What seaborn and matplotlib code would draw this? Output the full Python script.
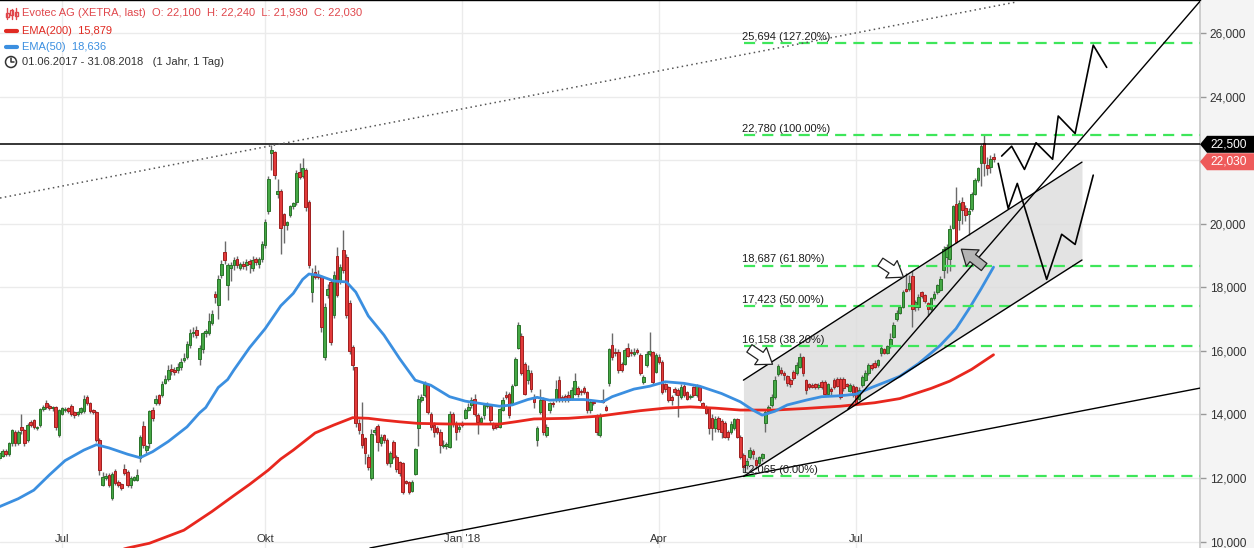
import numpy as np
import pandas as pd
import matplotlib
matplotlib.use("Agg")
import matplotlib.pyplot as plt
import seaborn as sns
from matplotlib.patches import Polygon, Circle, Rectangle
from matplotlib.lines import Line2D
from matplotlib.transforms import IdentityTransform

# ---------------- data (EUR) ----------------
opens = [
    12.60,12.70,12.62,12.70,12.85,12.75,13.09,13.46,13.10,13.60,
    13.50,13.20,13.77,13.82,13.56,13.67,14.16,14.37,14.26,14.19,
    14.24,13.35,14.03,14.13,14.19,14.26,14.08,14.00,14.08,14.10,
    14.56,14.35,14.14,14.08,13.20,11.78,12.00,12.10,11.36,12.23,
    11.88,11.80,12.27,12.20,11.78,11.94,11.94,12.62,13.64,12.88,
    13.10,14.14,14.35,14.60,14.60,15.00,15.13,15.42,15.40,15.40,
    15.50,15.70,15.82,16.18,16.55,16.65,15.76,16.05,16.55,16.55,
    16.88,17.80,17.44,18.38,19.10,18.07,18.60,18.70,18.88,18.62,
    18.72,18.70,18.82,18.60,18.88,18.72,18.88,19.33,20.40,22.23,
    22.26,20.93,21.02,20.30,19.95,20.28,20.55,20.69,21.63,21.50,
    21.69,20.70,17.86,18.49,18.40,18.33,15.80,17.75,18.17,17.13,
    19.00,18.20,19.17,18.96,17.50,16.13,15.48,13.72,13.38,13.25,
    12.67,11.99,13.45,13.64,13.09,13.35,13.20,12.46,13.14,12.67,
    12.50,12.46,11.90,11.88,11.60,12.13,13.56,14.45,14.60,14.92,
    14.03,13.67,13.59,13.46,13.00,13.00,12.99,14.00,13.74,13.55,
    13.72,13.90,14.14,14.30,14.50,13.98,13.77,13.98,14.28,14.26,
    13.70,13.66,13.61,14.14,14.61,14.64,14.35,14.92,16.10,16.47,
    15.60,15.08,15.31,14.56,13.20,14.09,14.45,13.35,14.14,14.35,
    14.45,15.08,14.55,14.58,14.60,14.50,14.66,14.82,14.75,14.82,
    14.71,14.14,14.38,13.98,13.35,14.45,14.24,14.98,16.18,15.97,
    15.97,15.60,15.60,16.10,15.97,15.90,16.03,15.87,15.03,15.55,
    15.90,15.97,15.34,15.80,15.66,14.95,14.85,14.55,14.80,14.78,
    14.56,14.90,14.72,14.55,14.85,14.60,14.85,14.35,14.25,14.20,
    13.90,13.56,13.90,13.80,13.72,13.45,13.45,13.56,13.85,13.30,
    12.72,12.40,12.67,12.85,12.57,12.48,12.62,13.72,14.10,14.30,
    14.56,15.27,15.40,15.30,15.20,15.10,15.34,15.31,15.50,15.82,
    15.08,14.95,14.92,14.95,14.85,15.03,15.03,14.66,14.80,15.10,
    15.13,15.13,15.13,14.95,14.75,14.90,14.85,14.50,14.92,15.10,
    15.29,15.55,15.62,15.55,15.92,16.05,15.95,16.18,16.44,16.99,
    17.20,17.39,17.96,17.96,18.35,17.37,17.39,17.84,17.75,17.50,
    17.33,17.65,17.86,17.93,18.54,18.96,18.90,19.88,20.62,20.11,
    20.69,20.50,20.30,20.48,20.95,21.37,21.90,22.53,21.85,21.80,
    22.10]
highs = [
    12.78,12.80,12.85,12.90,12.92,13.15,13.55,13.52,13.50,14.02,
    13.55,13.72,13.82,13.86,13.65,14.20,14.30,14.45,14.32,14.28,
    14.28,14.18,14.24,14.25,14.25,14.32,14.12,14.12,14.25,14.62,
    14.62,14.40,14.18,14.12,13.25,12.20,12.15,12.15,12.20,12.30,
    11.95,11.85,12.45,12.25,12.05,12.08,12.30,13.35,13.80,13.05,
    14.15,14.25,14.62,14.65,15.05,15.25,15.55,15.60,15.50,15.62,
    15.78,15.95,16.30,16.70,16.75,16.78,16.20,16.60,16.70,17.20,
    17.30,17.90,18.40,18.85,19.45,18.78,18.80,18.95,19.00,18.80,
    18.82,18.90,18.90,19.00,18.95,18.95,19.45,20.15,21.50,22.47,
    22.30,21.40,21.10,20.35,20.10,20.60,20.70,21.70,21.90,22.08,
    21.75,20.75,18.60,18.70,18.55,18.40,17.50,18.10,18.25,18.50,
    19.27,18.75,19.80,19.05,17.60,16.20,15.50,13.85,14.40,13.30,
    12.75,13.55,13.60,13.70,13.38,13.40,13.25,12.85,13.20,12.72,
    12.55,12.52,11.95,11.92,11.95,12.95,14.60,14.65,15.05,15.00,
    14.08,13.75,13.65,13.55,13.20,13.15,14.10,14.08,13.80,13.72,
    13.80,14.20,14.35,14.55,14.65,14.05,13.95,14.35,14.40,14.30,
    13.75,13.70,14.20,14.55,14.75,14.70,14.95,15.80,16.90,16.55,
    15.65,15.55,15.40,14.65,13.65,14.80,14.55,13.70,14.40,14.42,
    15.10,15.20,14.62,14.65,14.75,14.85,15.30,14.90,14.80,14.90,
    14.75,14.45,14.42,14.00,14.05,14.80,14.30,16.10,16.55,16.10,
    16.05,15.65,16.10,16.25,16.05,16.10,16.10,15.95,15.25,16.00,
    16.60,16.00,15.95,15.90,15.70,15.00,14.90,14.60,14.85,14.82,
    14.95,14.95,14.75,14.65,14.90,14.95,14.90,14.40,14.30,14.25,
    14.00,13.95,13.95,13.85,13.78,13.50,13.78,13.90,13.90,13.35,
    12.78,12.62,12.98,12.90,12.65,12.70,12.80,14.15,14.30,14.65,
    15.20,15.60,15.48,15.38,15.25,15.15,15.40,15.65,15.95,15.85,
    15.12,15.00,14.98,15.00,15.00,15.08,15.08,15.00,14.85,15.15,
    15.18,15.18,15.18,15.00,15.00,14.95,14.90,14.85,15.25,15.40,
    15.62,15.62,15.70,15.75,16.15,16.10,16.20,16.55,16.90,17.30,
    17.45,17.92,18.45,18.40,18.50,17.60,17.80,17.90,17.80,17.55,
    17.70,17.88,18.12,18.35,19.30,19.35,19.95,20.60,21.16,20.75,
    20.85,20.60,20.50,21.00,21.45,21.80,22.52,22.78,22.10,22.15,
    22.24]
lows = [
    12.55,12.58,12.58,12.66,12.68,12.70,13.00,13.02,13.05,13.40,
    13.02,13.15,13.60,13.55,13.50,13.62,14.10,14.18,14.15,14.12,
    13.50,13.30,13.98,14.08,14.05,13.95,13.90,13.95,14.02,14.05,
    14.30,14.05,14.02,13.15,12.10,11.75,11.95,11.72,11.30,11.78,
    11.72,11.62,12.10,11.72,11.70,11.90,11.90,12.50,12.95,12.80,
    12.95,13.80,14.30,14.30,14.55,14.95,15.05,15.25,15.25,15.30,
    15.40,15.65,15.75,16.10,16.45,16.40,15.55,15.95,16.45,16.50,
    16.80,17.50,17.00,18.30,18.75,17.60,18.20,18.55,18.60,18.55,
    18.58,18.55,18.45,18.50,18.70,18.60,18.80,19.25,20.30,21.70,
    21.40,20.80,19.06,19.40,19.80,20.20,20.45,20.60,21.40,21.45,
    20.40,18.60,17.55,18.25,18.25,16.60,15.70,17.65,16.20,17.05,
    17.70,18.10,18.45,17.05,15.90,15.40,13.60,13.40,12.95,12.45,
    12.25,11.95,13.35,12.85,13.00,13.10,12.40,12.35,12.60,12.20,
    12.05,11.50,11.80,11.50,11.55,12.10,13.00,14.40,14.55,14.00,
    13.50,13.30,13.40,12.80,12.95,12.90,12.95,13.60,13.20,13.45,
    13.60,13.85,14.10,14.20,13.95,13.40,13.70,13.85,14.20,13.70,
    13.50,13.55,13.58,14.10,14.50,13.90,14.30,14.90,16.05,15.25,
    14.60,14.95,14.70,14.20,13.00,14.00,13.35,13.28,14.05,14.25,
    14.40,14.40,14.40,14.38,14.40,14.45,14.60,14.55,14.60,14.65,
    14.05,14.05,14.30,13.35,13.30,14.35,14.10,14.90,15.70,15.85,
    15.30,15.35,15.55,15.80,15.85,15.85,15.90,15.25,14.95,15.50,
    15.85,14.95,15.30,15.60,14.65,14.70,14.40,14.30,14.60,13.93,
    14.50,14.55,14.45,14.50,14.55,14.55,14.40,14.20,14.00,13.40,
    13.20,13.45,13.45,13.25,13.25,13.20,13.40,13.50,13.25,12.60,
    12.20,12.30,12.60,12.60,12.30,12.40,12.55,13.46,14.00,14.25,
    14.50,15.20,15.25,15.10,14.90,14.88,15.10,15.25,15.45,15.20,
    14.65,14.80,14.82,14.80,14.80,14.80,14.60,14.60,14.60,14.80,
    14.85,14.50,14.75,14.85,14.70,14.55,14.30,14.45,14.85,15.05,
    15.25,15.40,15.45,15.50,15.85,15.90,15.90,16.10,16.40,16.95,
    17.15,17.35,17.85,17.90,16.76,17.25,17.30,17.65,17.50,17.10,
    17.25,17.60,17.80,17.90,18.30,18.45,18.50,19.85,19.40,19.80,
    20.00,20.10,19.65,20.40,20.90,21.30,21.20,21.50,21.55,21.60,
    21.93]
closes = [
    12.70,12.65,12.80,12.85,12.75,13.09,13.50,13.09,13.46,13.50,
    13.10,13.67,13.67,13.60,13.60,14.16,14.24,14.24,14.19,14.24,
    13.60,14.14,14.19,14.17,14.10,14.03,13.98,14.08,14.19,14.50,
    14.35,14.10,14.08,13.20,12.25,12.04,12.07,11.78,12.12,11.83,
    11.78,11.68,12.17,11.78,11.99,12.02,12.10,13.28,13.04,13.00,
    14.10,13.88,14.50,14.37,14.96,15.13,15.40,15.36,15.35,15.50,
    15.65,15.78,16.21,16.55,16.60,16.50,16.10,16.55,16.62,16.94,
    17.16,17.70,18.25,18.75,18.86,18.70,18.70,18.86,18.70,18.72,
    18.68,18.80,18.72,18.86,18.80,18.88,19.36,20.06,21.42,22.33,
    21.53,21.03,19.87,19.96,20.05,20.55,20.65,21.60,21.48,21.74,
    20.53,18.70,18.43,18.33,18.33,16.76,17.39,17.96,16.28,18.38,
    17.75,18.65,18.54,17.13,16.00,15.55,13.72,13.51,13.04,12.78,
    12.36,13.40,13.50,13.14,13.30,13.20,12.46,12.78,12.67,12.30,
    12.15,11.57,11.85,11.57,11.88,12.90,14.50,14.55,14.95,14.09,
    13.60,13.46,13.46,13.04,13.05,13.07,14.01,13.74,13.46,13.62,
    13.66,14.14,14.24,14.47,14.03,13.77,13.90,14.30,14.32,13.82,
    13.56,13.62,14.16,14.45,14.56,13.98,14.90,15.76,16.81,15.31,
    14.66,15.40,14.79,14.40,13.56,14.45,13.46,13.61,14.35,14.33,
    14.79,14.45,14.45,14.45,14.45,14.77,15.06,14.66,14.70,14.71,
    14.14,14.40,14.35,13.46,13.98,14.40,14.14,16.05,15.80,15.92,
    15.40,15.40,16.03,15.84,15.92,15.98,15.98,15.31,15.17,15.90,
    16.00,15.03,15.87,15.66,14.71,14.80,14.45,14.47,14.70,14.60,
    14.87,14.60,14.50,14.58,14.60,14.90,14.45,14.25,14.05,13.56,
    13.56,13.85,13.55,13.45,13.30,13.28,13.70,13.85,13.30,12.67,
    12.36,12.55,12.88,12.76,12.40,12.65,12.75,14.09,14.25,14.56,
    15.10,15.52,15.30,15.25,14.98,14.95,15.16,15.55,15.82,15.29,
    14.77,14.85,14.88,14.85,14.92,14.85,14.66,14.96,14.75,14.87,
    14.90,14.56,14.82,14.90,14.92,14.60,14.37,14.77,15.18,15.30,
    15.55,15.45,15.50,15.70,16.08,15.95,16.15,16.39,16.81,17.20,
    17.39,17.86,17.90,18.14,17.33,17.53,17.70,17.72,17.58,17.33,
    17.65,17.80,18.07,18.25,19.22,19.27,19.85,20.55,19.43,20.64,
    20.43,20.27,20.40,20.93,21.37,21.74,22.44,21.90,21.74,22.05,
    22.03]

xetra_holidays = ["2017-12-25", "2017-12-26", "2018-01-01", "2018-03-30", "2018-04-02", "2018-05-01"]
month_labels = {"2017-07": "Jul", "2017-10": "Okt", "2018-01": "Jan '18", "2018-04": "Apr", "2018-07": "Jul"}

ema50_idx = [2, 8, 13, 18, 23, 29, 33, 37, 43, 47, 51, 56, 62, 66, 68, 72, 75, 77, 82, 87,
             92, 96, 99, 101, 104, 109, 113, 116, 120, 125, 130, 135, 140, 146, 151, 157, 162, 166, 171, 174,
             178, 183, 189, 195, 198, 205, 210, 215, 221, 226, 233, 239, 243, 246, 250, 254, 260, 265, 271, 276,
             281, 287, 290, 296, 303, 308, 312, 316, 320]
ema50_val = [11.10, 11.35, 11.62, 12.10, 12.55, 12.88, 13.05, 12.95, 12.75, 12.64, 12.83, 13.15, 13.61, 14.05, 14.22, 14.85, 15.10, 15.40, 16.10, 16.70,
             17.42, 17.81, 18.25, 18.42, 18.38, 18.20, 18.17, 17.85, 17.10, 16.50, 15.76, 15.08, 14.92, 14.56, 14.42, 14.33, 14.26, 14.30, 14.47, 14.54,
             14.45, 14.47, 14.47, 14.40, 14.56, 14.80, 14.89, 15.03, 14.98, 14.89, 14.66, 14.40, 14.14, 13.98, 14.10, 14.30, 14.45, 14.56, 14.59, 14.64,
             14.85, 15.08, 15.20, 15.60, 16.18, 16.70, 17.30, 17.95, 18.636]
ema200_idx = [40, 43, 50, 61, 70, 77, 82, 88, 92, 96, 103, 109, 115, 120, 125, 130, 136, 146, 157, 162,
              167, 173, 184, 194, 200, 207, 215, 223, 231, 239, 250, 260, 271, 282, 290, 300, 306, 313, 320]
ema200_val = [9.72, 9.80, 9.95, 10.36, 10.95, 11.45, 11.80, 12.25, 12.60, 12.88, 13.42, 13.67, 13.90, 13.88, 13.82, 13.77, 13.72, 13.70, 13.70, 13.70,
              13.77, 13.86, 13.88, 13.95, 14.03, 14.12, 14.20, 14.24, 14.20, 14.14, 14.14, 14.19, 14.26, 14.37, 14.50, 14.82, 15.05, 15.42, 15.879]

fib_levels = [25.694, 22.780, 18.687, 17.423, 16.158, 12.065]
fib_pcts = ["127.20%", "100.00%", "61.80%", "50.00%", "38.20%", "0.00%"]
fib_start = 240.2

hline_price = 22.5
y_ticks = [10, 12, 14, 16, 18, 20, 22, 24, 26]

# drawn annotations (trading-day index, price)
dotted_line = ([2.18, 326.9], [20.81, 26.97])
support_line = ([120.5, 386.05], [9.80, 14.83])
steep_line = ([273.4, 386.05], [14.17, 27.0])
channel_x = [240.0, 348.3]
channel_low = [12.05, 18.86]
channel_high = [15.08, 21.94]
path1_idx = [322.6, 325.8, 329.9, 333.6, 338.9, 340.7, 346.1, 351.9, 356.2]
path1_val = [22.13, 22.44, 21.71, 22.55, 22.03, 23.39, 22.84, 25.62, 24.92]
path2_idx = [321.5, 324.7, 327.6, 337.0, 341.8, 346.1, 351.9]
path2_val = [21.90, 20.48, 21.27, 18.25, 19.67, 19.35, 21.53]
arrows = [((249.3, 15.58), (241.9, 16.08), "white"),
          ((291.2, 18.32), (283.8, 18.80), "white"),
          ((309.7, 19.20), (317.0, 18.64), "#b4b4b4")]


def de(v):
    return f"{v:.3f}".replace(".", ",")


# ---------------- figure ----------------
sns.set_theme(style="white")
plt.rcParams["font.family"] = ["Liberation Sans", "DejaVu Sans"]

W, H = 1254, 548
fig = plt.figure(figsize=(W / 100, H / 100), dpi=100)
fig.patch.set_facecolor("#f4f4f4")
ax = fig.add_axes([0, 0, 1200 / W, 1])
ax.set_facecolor("white")

dates = pd.bdate_range("2017-06-01", "2018-08-31")
dates = dates[~dates.isin(pd.to_datetime(xetra_holidays))]
n = len(closes)
dates = dates[:n]
idx = np.arange(n)
months = dates.strftime("%Y-%m")
month_idx = [int(np.argmax(months == k)) for k in month_labels]

o = np.array(opens); c = np.array(closes); h = np.array(highs); l = np.array(lows)
up = c >= o
body_lo = np.minimum(o, c)
body_h = np.maximum(np.abs(c - o), 0.04)

# channel fill
ax.fill_between(channel_x, channel_low, channel_high, color="#dcdcdc", alpha=0.8, lw=0, zorder=1)

# candles
ax.vlines(idx, l, h, color="#6a6a6a", lw=1.0, zorder=3)
ax.bar(idx[up], body_h[up], bottom=body_lo[up], width=0.84, color="#45a845",
       edgecolor="#2a732a", linewidth=0.7, zorder=4)
ax.bar(idx[~up], body_h[~up], bottom=body_lo[~up], width=0.84, color="#e23a3a",
       edgecolor="#a01f1f", linewidth=0.7, zorder=4)

# EMAs
sns.lineplot(x=ema200_idx, y=ema200_val, ax=ax, color="#e8271e", linewidth=2.0, zorder=5, legend=False)
sns.lineplot(x=ema50_idx, y=ema50_val, ax=ax, color="#3b8fe0", linewidth=2.0, zorder=5, legend=False)

# Fibonacci levels
x_right = 386.05
for lvl, pct in zip(fib_levels, fib_pcts):
    ax.plot([fib_start, x_right], [lvl, lvl], ls=(0, (5, 3.2)), color="#3ee65a", lw=1.6, zorder=6)
    ax.annotate(f"{de(lvl)} ({pct})", xy=(fib_start - 0.8, lvl), xytext=(0, 2.2),
                textcoords="offset points", ha="left", va="baseline", fontsize=8, color="#1e1e1e", zorder=7)

# lines
ax.axhline(hline_price, color="black", lw=1.1, zorder=6)
ax.plot(*dotted_line, color="#555555", lw=1.1, ls=(0, (1, 2.2)), zorder=6)
ax.plot(*support_line, color="black", lw=1.0, zorder=6)
ax.plot(*steep_line, color="black", lw=1.0, zorder=6)
ax.plot(channel_x, channel_low, color="black", lw=1.0, zorder=6)
ax.plot(channel_x, channel_high, color="black", lw=1.0, zorder=6)
ax.plot(path1_idx, path1_val, color="black", lw=1.2, zorder=6)
ax.plot(path2_idx, path2_val, color="black", lw=1.2, zorder=6)

for head, tail, fc in arrows:
    ax.annotate("", xy=head, xytext=tail,
                arrowprops=dict(arrowstyle="simple,head_length=0.8,head_width=1.15,tail_width=0.5",
                                fc=fc, ec="#222222", lw=0.9, shrinkA=0, shrinkB=0, mutation_scale=13),
                zorder=8)

# axes styling
ax.set_xlim(2.18, x_right)
ax.set_ylim(9.80, 27.04)
ax.set_yticks(y_ticks)
ax.set_yticklabels([de(v) for v in y_ticks])
ax.yaxis.tick_right()
ax.tick_params(axis="y", direction="out", length=4, width=1, color="#999999",
               labelsize=8.6, labelcolor="#333333", pad=3, left=False, right=True)
ax.set_xticks(month_idx)
ax.tick_params(axis="x", direction="in", length=5, width=1, color="#aaaaaa", labelbottom=False)
ax.grid(True, color="#ebebeb", lw=1)
ax.set_axisbelow(True)
ax.spines["left"].set_visible(False)
ax.spines["bottom"].set_visible(False)
ax.spines["right"].set_color("#c8c8c8")
ax.spines["top"].set_color("black")
ax.spines["top"].set_linewidth(1.0)

for mi, lab in zip(month_idx, month_labels.values()):
    ax.text(mi, 0.011, lab, transform=ax.get_xaxis_transform(), ha="center", va="baseline",
            fontsize=8.2, color="#333333")

# right-hand price tags
fig.canvas.draw()
ident = IdentityTransform()


def tag(price, color, tcolor, dy=0.0):
    yd = ax.transData.transform((0, price))[1] + dy
    hh = 8.5
    poly = Polygon([[1200, yd], [1207, yd + hh], [1254, yd + hh], [1254, yd - hh], [1207, yd - hh]],
                   closed=True, transform=ident, facecolor=color, edgecolor="none", zorder=10)
    fig.add_artist(poly)
    fig.text(1229 / W, yd / H, de(price), color=tcolor, ha="center", va="center", fontsize=8.6, zorder=11)


tag(closes[-1], "#ee5b5b", "white", dy=-2.5)
tag(hline_price, "black", "white")

# legend block (top-left)
def ypx(y):
    return H - y

title = (f"Evotec AG (XETRA, last)  O: {de(opens[-1])}  H: {de(highs[-1])}  "
         f"L: {de(lows[-1])}  C: {de(closes[-1])}")
fig.text(22 / W, ypx(13) / H, title, color="#e0474c", fontsize=8, va="center")
fig.text(22 / W, ypx(31) / H, f"EMA(200)  {de(ema200_val[-1])}", color="#e02a22", fontsize=8, va="center")
fig.text(22 / W, ypx(47) / H, f"EMA(50)  {de(ema50_val[-1])}", color="#3b8fe0", fontsize=8, va="center")
fig.text(22 / W, ypx(62) / H,
         f"{dates[0]:%d.%m.%Y} - {dates[-1]:%d.%m.%Y}   (1 Jahr, 1 Tag)", color="#333333", fontsize=8, va="center")

# candle icon
for xc, (w0, w1), (b0, b1) in [(7, (8, 19), (13, 17)), (11.5, (9, 19), (10, 15)), (16, (8, 19), (12, 16))]:
    fig.add_artist(Line2D([xc, xc], [ypx(w0), ypx(w1)], transform=ident, color="#e0474c", lw=1))
    fig.add_artist(Rectangle((xc - 1.5, ypx(b1)), 3, b1 - b0, transform=ident,
                             facecolor="white", edgecolor="#e0474c", lw=1))
fig.add_artist(Line2D([6, 17], [ypx(31), ypx(31)], transform=ident, color="#e02a22", lw=3))
fig.add_artist(Line2D([6, 17], [ypx(47), ypx(47)], transform=ident, color="#3b8fe0", lw=3))
fig.add_artist(Circle((11, ypx(62)), 5.5, transform=ident, facecolor="none", edgecolor="#333333", lw=1.1))
fig.add_artist(Line2D([11, 11, 14], [ypx(58), ypx(62), ypx(62)], transform=ident, color="#333333", lw=1.1))

fig.savefig("out.png", dpi=100, facecolor=fig.get_facecolor())
